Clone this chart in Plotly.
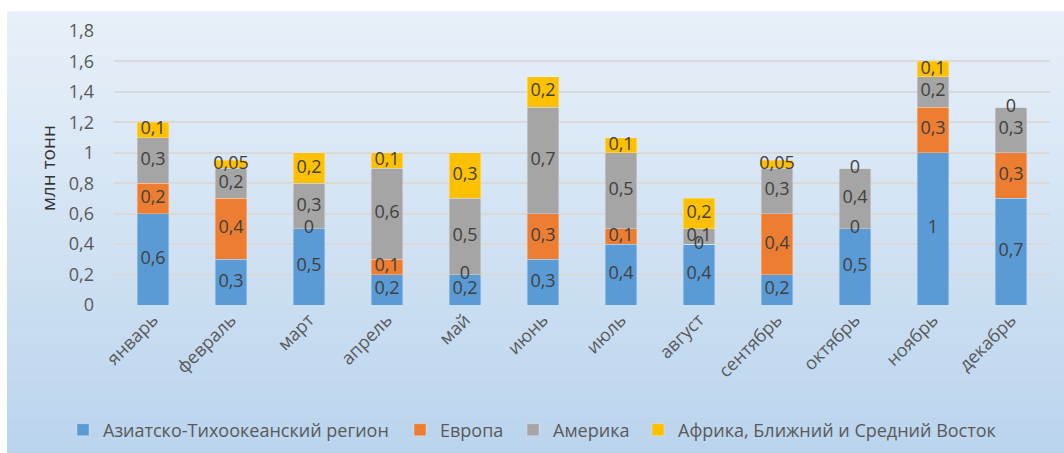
import plotly.graph_objects as go

months = ["январь", "февраль", "март", "апрель", "май", "июнь", "июль",
          "август", "сентябрь", "октябрь", "ноябрь", "декабрь"]
asia = [0.6, 0.3, 0.5, 0.2, 0.2, 0.3, 0.4, 0.4, 0.2, 0.5, 1.0, 0.7]
europe = [0.2, 0.4, 0.0, 0.1, 0.0, 0.3, 0.1, 0.0, 0.4, 0.0, 0.3, 0.3]
america = [0.3, 0.2, 0.3, 0.6, 0.5, 0.7, 0.5, 0.1, 0.3, 0.4, 0.2, 0.3]
africa = [0.1, 0.05, 0.2, 0.1, 0.3, 0.2, 0.1, 0.2, 0.05, 0.0, 0.1, 0.0]

series = [
    ("Азиатско-Тихоокеанский регион", asia, "#5B9BD5"),
    ("Европа", europe, "#ED7D31"),
    ("Америка", america, "#A5A5A5"),
    ("Африка, Ближний и Средний Восток", africa, "#FFC000"),
]

W, H = 1064, 453
L, R, T, B = 114, 14, 31, 148
pw, ph = W - L - R, H - T - B
FONT = "Open Sans, Liberation Sans, sans-serif"


def px_x(px):
    return (px - L) / pw


def px_y(py):
    return (H - B - py) / ph


def fmt(v):
    return ("%g" % v).replace(".", ",")


fig = go.Figure()

legend_names = ["legend", "legend2", "legend3", "legend4"]
legend_text_px = [99, 436, 549, 674]

for (name, vals, color), lg in zip(series, legend_names):
    fig.add_trace(go.Bar(
        x=months, y=vals, name=name, legend=lg,
        marker=dict(color=color, line=dict(color="rgba(255,255,255,0.35)", width=0.8)),
        hoverinfo="skip",
    ))

# data labels at segment midpoints
base = [0.0] * len(months)
for name, vals, color in series:
    mids = [b + v / 2 for b, v in zip(base, vals)]
    fig.add_trace(go.Scatter(
        x=months, y=mids, mode="text",
        text=[fmt(v) for v in vals],
        textfont=dict(family=FONT, size=18, color="#404040"),
        showlegend=False, hoverinfo="skip", cliponaxis=False,
    ))
    base = [b + v for b, v in zip(base, vals)]

# gradient background frame
shapes = []
top_c = (232, 240, 249)
bot_c = (186, 212, 237)
y0p, y1p = 11, H
n = 60
for i in range(n):
    a = y0p + (y1p - y0p) * i / n
    b = y0p + (y1p - y0p) * (i + 1) / n
    t = (i + 0.5) / n
    c = tuple(round(top_c[k] + (bot_c[k] - top_c[k]) * t) for k in range(3))
    shapes.append(dict(
        type="rect", xref="paper", yref="paper", layer="below",
        x0=px_x(7), x1=px_x(W + 2), y0=px_y(b + 0.5), y1=px_y(a),
        fillcolor="rgb(%d,%d,%d)" % c, line=dict(width=0),
    ))

legend_common = dict(
    orientation="h", yanchor="middle", y=px_y(430), xanchor="left",
    font=dict(family=FONT, size=18, color="#595959"), bgcolor="rgba(0,0,0,0)",
    itemwidth=30, borderwidth=0,
)

layout_legends = {}
for lg, tx in zip(legend_names, legend_text_px):
    layout_legends[lg] = dict(legend_common, x=px_x(tx - 36))

fig.update_layout(
    width=W, height=H,
    margin=dict(l=L, r=R, t=T, b=B, autoexpand=False),
    barmode="stack",
    bargap=0.6,
    paper_bgcolor="white",
    plot_bgcolor="rgba(0,0,0,0)",
    shapes=shapes,
    font=dict(family=FONT, color="#595959", size=17),
    showlegend=True,
    yaxis=dict(
        range=[0, 1.8], dtick=0.2, tickformat="~r",
        showgrid=True, gridcolor="#d9d9d9", gridwidth=2,
        zeroline=False, showline=False, automargin=False,
        tickfont=dict(family=FONT, size=18, color="#595959"),
        ticklabelstandoff=19,
        title=dict(text="млн тонн", font=dict(family=FONT, size=19, color="#333333"), standoff=8),
        ticks="", ticklen=0,
    ),
    xaxis=dict(
        range=[-0.5, len(months) - 0.5],
        tickangle=-45, showgrid=False, showline=False, zeroline=False, automargin=False,
        tickfont=dict(family=FONT, size=18, color="#595959"),
    ),
    separators=", ",
    **layout_legends,
)

fig.write_html("out.html", config={"displayModeBar": False},
               post_script="document.body.style.margin='0px';")
